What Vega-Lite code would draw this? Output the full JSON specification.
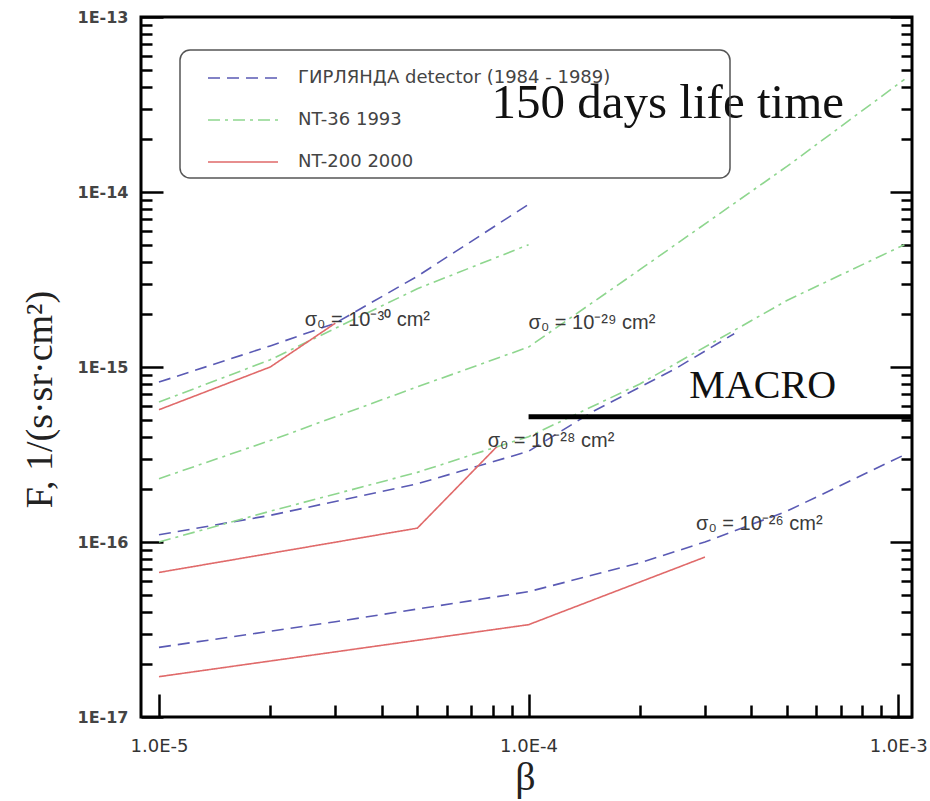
{
  "$schema": "https://vega.github.io/schema/vega-lite/v6.json",
  "width": 771,
  "height": 700,
  "autosize": "none",
  "padding": {"left": 141, "top": 17, "right": 18, "bottom": 84},
  "background": "white",
  "config": {
    "view": {"stroke": "black", "strokeWidth": 3},
    "axis": {"domain": false, "grid": false, "tickColor": "black", "tickWidth": 2.5, "labelFlush": false, "labelOverlap": false},
    "legend": {"strokeWidth": 1.5}
  },
  "datasets": {
    "curves": [
      {"detector": "ГИРЛЯНДА detector (1984 - 1989)", "curve": "g30", "beta": 1e-5, "flux": 8.2e-16},
      {"detector": "ГИРЛЯНДА detector (1984 - 1989)", "curve": "g30", "beta": 2e-5, "flux": 1.32e-15},
      {"detector": "ГИРЛЯНДА detector (1984 - 1989)", "curve": "g30", "beta": 3e-5, "flux": 1.78e-15},
      {"detector": "ГИРЛЯНДА detector (1984 - 1989)", "curve": "g30", "beta": 5e-5, "flux": 3.3e-15},
      {"detector": "ГИРЛЯНДА detector (1984 - 1989)", "curve": "g30", "beta": 1e-4, "flux": 8.5e-15},
      {"detector": "ГИРЛЯНДА detector (1984 - 1989)", "curve": "g28", "beta": 1e-5, "flux": 1.1e-16},
      {"detector": "ГИРЛЯНДА detector (1984 - 1989)", "curve": "g28", "beta": 2e-5, "flux": 1.42e-16},
      {"detector": "ГИРЛЯНДА detector (1984 - 1989)", "curve": "g28", "beta": 5e-5, "flux": 2.15e-16},
      {"detector": "ГИРЛЯНДА detector (1984 - 1989)", "curve": "g28", "beta": 1e-4, "flux": 3.3e-16},
      {"detector": "ГИРЛЯНДА detector (1984 - 1989)", "curve": "g28", "beta": 1.5e-4, "flux": 5.6e-16},
      {"detector": "ГИРЛЯНДА detector (1984 - 1989)", "curve": "g28", "beta": 2.5e-4, "flux": 9.8e-16},
      {"detector": "ГИРЛЯНДА detector (1984 - 1989)", "curve": "g28", "beta": 3.6e-4, "flux": 1.55e-15},
      {"detector": "ГИРЛЯНДА detector (1984 - 1989)", "curve": "g26", "beta": 1e-5, "flux": 2.5e-17},
      {"detector": "ГИРЛЯНДА detector (1984 - 1989)", "curve": "g26", "beta": 3e-5, "flux": 3.5e-17},
      {"detector": "ГИРЛЯНДА detector (1984 - 1989)", "curve": "g26", "beta": 1e-4, "flux": 5.2e-17},
      {"detector": "ГИРЛЯНДА detector (1984 - 1989)", "curve": "g26", "beta": 2e-4, "flux": 7.6e-17},
      {"detector": "ГИРЛЯНДА detector (1984 - 1989)", "curve": "g26", "beta": 3e-4, "flux": 1.0e-16},
      {"detector": "ГИРЛЯНДА detector (1984 - 1989)", "curve": "g26", "beta": 5e-4, "flux": 1.5e-16},
      {"detector": "ГИРЛЯНДА detector (1984 - 1989)", "curve": "g26", "beta": 1.04e-3, "flux": 3.15e-16},
      {"detector": "NT-36 1993", "curve": "n30", "beta": 1e-5, "flux": 6.3e-16},
      {"detector": "NT-36 1993", "curve": "n30", "beta": 2e-5, "flux": 1.1e-15},
      {"detector": "NT-36 1993", "curve": "n30", "beta": 5e-5, "flux": 2.8e-15},
      {"detector": "NT-36 1993", "curve": "n30", "beta": 1e-4, "flux": 5.0e-15},
      {"detector": "NT-36 1993", "curve": "n29", "beta": 1e-5, "flux": 2.3e-16},
      {"detector": "NT-36 1993", "curve": "n29", "beta": 2e-5, "flux": 3.8e-16},
      {"detector": "NT-36 1993", "curve": "n29", "beta": 5e-5, "flux": 7.7e-16},
      {"detector": "NT-36 1993", "curve": "n29", "beta": 1e-4, "flux": 1.3e-15},
      {"detector": "NT-36 1993", "curve": "n29", "beta": 2e-4, "flux": 3.6e-15},
      {"detector": "NT-36 1993", "curve": "n29", "beta": 5e-4, "flux": 1.4e-14},
      {"detector": "NT-36 1993", "curve": "n29", "beta": 1.04e-3, "flux": 4.4e-14},
      {"detector": "NT-36 1993", "curve": "n28", "beta": 1e-5, "flux": 1.0e-16},
      {"detector": "NT-36 1993", "curve": "n28", "beta": 2e-5, "flux": 1.5e-16},
      {"detector": "NT-36 1993", "curve": "n28", "beta": 5e-5, "flux": 2.5e-16},
      {"detector": "NT-36 1993", "curve": "n28", "beta": 1e-4, "flux": 4.0e-16},
      {"detector": "NT-36 1993", "curve": "n28", "beta": 2e-4, "flux": 8.0e-16},
      {"detector": "NT-36 1993", "curve": "n28", "beta": 5e-4, "flux": 2.4e-15},
      {"detector": "NT-36 1993", "curve": "n28", "beta": 1.04e-3, "flux": 5.0e-15},
      {"detector": "NT-200 2000", "curve": "r30", "beta": 1e-5, "flux": 5.7e-16},
      {"detector": "NT-200 2000", "curve": "r30", "beta": 2e-5, "flux": 1.0e-15},
      {"detector": "NT-200 2000", "curve": "r30", "beta": 3e-5, "flux": 1.78e-15},
      {"detector": "NT-200 2000", "curve": "r28", "beta": 1e-5, "flux": 6.7e-17},
      {"detector": "NT-200 2000", "curve": "r28", "beta": 5e-5, "flux": 1.2e-16},
      {"detector": "NT-200 2000", "curve": "r28", "beta": 8.2e-5, "flux": 3.5e-16},
      {"detector": "NT-200 2000", "curve": "r26", "beta": 1e-5, "flux": 1.7e-17},
      {"detector": "NT-200 2000", "curve": "r26", "beta": 1e-4, "flux": 3.37e-17},
      {"detector": "NT-200 2000", "curve": "r26", "beta": 3e-4, "flux": 8.2e-17}
    ],
    "macro": [{"beta": 1e-4, "beta2": 1.09e-3, "flux": 5.2e-16}],
    "sigmas": [
      {"beta": 2.48e-5, "flux": 1.86e-15, "label": "σ₀ = 10⁻³⁰ cm²"},
      {"beta": 1.0e-4, "flux": 1.78e-15, "label": "σ₀ = 10⁻²⁹ cm²"},
      {"beta": 7.75e-5, "flux": 3.8e-16, "label": "σ₀ = 10⁻²⁸ cm²"},
      {"beta": 2.84e-4, "flux": 1.26e-16, "label": "σ₀ = 10⁻²⁶ cm²"}
    ],
    "titles": [
      {"beta": 7.94e-5, "flux": 2.65e-14, "label": "150 days life time", "kind": "life"},
      {"beta": 4.3e-4, "flux": 6.65e-16, "label": "MACRO", "kind": "macro"}
    ]
  },
  "resolve": {"axis": {"x": "independent", "y": "independent"}},
  "layer": [
    {
      "data": {"name": "curves"},
      "mark": {"type": "line", "strokeWidth": 1.6},
      "encoding": {
        "x": {
          "field": "beta", "type": "quantitative",
          "scale": {"type": "log", "domain": [8.94e-6, 1.09e-3], "nice": false},
          "axis": {
            "orient": "bottom",
            "values": [1e-5, 1e-4, 1e-3],
            "tickSize": -23,
            "labelExpr": "'1.0E' + round(log(datum.value)/LN10)",
            "labelPadding": 43,
            "labelFont": "DejaVu Sans",
            "labelFontSize": 18,
            "labelColor": "#333",
            "title": "β",
            "titleFont": "Liberation Serif",
            "titleFontSize": 40,
            "titleFontWeight": "normal",
            "titleColor": "#222",
            "titleX": 384,
            "titleY": 60,
            "titleBaseline": "middle"
          }
        },
        "y": {
          "field": "flux", "type": "quantitative",
          "scale": {"type": "log", "domain": [1e-17, 1e-13], "nice": false},
          "axis": {
            "orient": "left",
            "values": [1e-17, 1e-16, 1e-15, 1e-14, 1e-13],
            "tickSize": -22,
            "labelExpr": "'1E' + round(log(datum.value)/LN10)",
            "labelPadding": 35,
            "labelFont": "DejaVu Sans",
            "labelFontSize": 16,
            "labelFontWeight": "bold",
            "labelColor": "#444",
            "title": "F, 1/(s·sr·cm²)",
            "titleFont": "Liberation Serif",
            "titleFontSize": 38,
            "titleFontWeight": "normal",
            "titleColor": "#222",
            "titleAngle": -90,
            "titleX": -101,
            "titleY": 382,
            "titleAlign": "center",
            "titleBaseline": "middle"
          }
        },
        "detail": {"field": "curve"},
        "color": {
          "field": "detector", "type": "nominal",
          "scale": {"domain": ["ГИРЛЯНДА detector (1984 - 1989)", "NT-36 1993", "NT-200 2000"], "range": ["#5a5ab4", "#8ed68e", "#e06a6a"]},
          "legend": {
            "title": "⠀⠀⠀⠀⠀⠀⠀⠀",
            "titleOrient": "right",
            "titleFont": "DejaVu Sans",
            "titleFontSize": 18,
            "titlePadding": 0,
            "orient": "none",
            "legendX": 39,
            "legendY": 33,
            "padding": 7,
            "strokeColor": "#555",
            "cornerRadius": 10,
            "fillColor": "transparent",
            "symbolType": "M-1.75,0L1.75,0",
            "symbolSize": 1600,
            "symbolStrokeWidth": 1.5,
            "symbolOffset": 35,
            "labelOffset": 34,
            "labelLimit": 500,
            "rowPadding": 12,
            "labelFont": "DejaVu Sans",
            "labelFontSize": 18,
            "labelColor": "#444"
          }
        },
        "strokeDash": {
          "field": "detector", "type": "nominal",
          "scale": {"domain": ["ГИРЛЯНДА detector (1984 - 1989)", "NT-36 1993", "NT-200 2000"], "range": [[12, 7], [12, 5, 3, 5], [1, 0]]}
        }
      }
    },
    {
      "data": {"name": "macro"},
      "mark": {"type": "rule", "strokeWidth": 5, "color": "black", "strokeCap": "butt"},
      "encoding": {
        "x": {
          "field": "beta", "type": "quantitative",
          "scale": {"type": "log", "domain": [8.94e-6, 1.09e-3], "nice": false},
          "axis": {
            "orient": "bottom",
            "values": [2e-5, 3e-5, 4e-5, 5e-5, 6e-5, 7e-5, 8e-5, 9e-5, 2e-4, 3e-4, 4e-4, 5e-4, 6e-4, 7e-4, 8e-4, 9e-4],
            "tickSize": -12,
            "labels": false,
            "title": null
          }
        },
        "x2": {"field": "beta2"},
        "y": {
          "field": "flux", "type": "quantitative",
          "scale": {"type": "log", "domain": [1e-17, 1e-13], "nice": false},
          "axis": {
            "orient": "right",
            "values": [1e-17, 1e-16, 1e-15, 1e-14, 1e-13],
            "tickSize": -22,
            "labels": false,
            "title": null
          }
        }
      }
    },
    {
      "data": {"name": "sigmas"},
      "mark": {"type": "text", "align": "left", "baseline": "middle", "font": "Liberation Sans", "fontSize": 20, "color": "#3a3a3a"},
      "encoding": {
        "x": {"field": "beta", "type": "quantitative", "scale": {"type": "log", "domain": [8.94e-6, 1.09e-3], "nice": false}, "axis": null},
        "y": {
          "field": "flux", "type": "quantitative",
          "scale": {"type": "log", "domain": [1e-17, 1e-13], "nice": false},
          "axis": {
            "orient": "left",
            "values": [2e-17, 3e-17, 4e-17, 5e-17, 6e-17, 7e-17, 8e-17, 9e-17, 2e-16, 3e-16, 4e-16, 5e-16, 6e-16, 7e-16, 8e-16, 9e-16, 2e-15, 3e-15, 4e-15, 5e-15, 6e-15, 7e-15, 8e-15, 9e-15, 2e-14, 3e-14, 4e-14, 5e-14, 6e-14, 7e-14, 8e-14, 9e-14],
            "tickSize": -11,
            "labels": false,
            "title": null
          }
        },
        "text": {"field": "label"}
      }
    },
    {
      "data": {"name": "titles"},
      "transform": [{"filter": "datum.kind == 'life'"}],
      "mark": {"type": "text", "align": "left", "baseline": "alphabetic", "font": "Liberation Serif", "fontSize": 49, "color": "#111"},
      "encoding": {
        "x": {"field": "beta", "type": "quantitative", "scale": {"type": "log", "domain": [8.94e-6, 1.09e-3], "nice": false}, "axis": null},
        "y": {
          "field": "flux", "type": "quantitative",
          "scale": {"type": "log", "domain": [1e-17, 1e-13], "nice": false},
          "axis": {
            "orient": "right",
            "values": [2e-17, 3e-17, 4e-17, 5e-17, 6e-17, 7e-17, 8e-17, 9e-17, 2e-16, 3e-16, 4e-16, 5e-16, 6e-16, 7e-16, 8e-16, 9e-16, 2e-15, 3e-15, 4e-15, 5e-15, 6e-15, 7e-15, 8e-15, 9e-15, 2e-14, 3e-14, 4e-14, 5e-14, 6e-14, 7e-14, 8e-14, 9e-14],
            "tickSize": -11,
            "labels": false,
            "title": null
          }
        },
        "text": {"field": "label"}
      }
    },
    {
      "data": {"name": "titles"},
      "transform": [{"filter": "datum.kind == 'macro'"}],
      "mark": {"type": "text", "align": "center", "baseline": "alphabetic", "font": "Liberation Serif", "fontSize": 40, "letterSpacing": 3, "color": "#111"},
      "encoding": {
        "x": {"field": "beta", "type": "quantitative", "scale": {"type": "log", "domain": [8.94e-6, 1.09e-3], "nice": false}, "axis": null},
        "y": {"field": "flux", "type": "quantitative", "scale": {"type": "log", "domain": [1e-17, 1e-13], "nice": false}, "axis": null},
        "text": {"field": "label"}
      }
    }
  ]
}
